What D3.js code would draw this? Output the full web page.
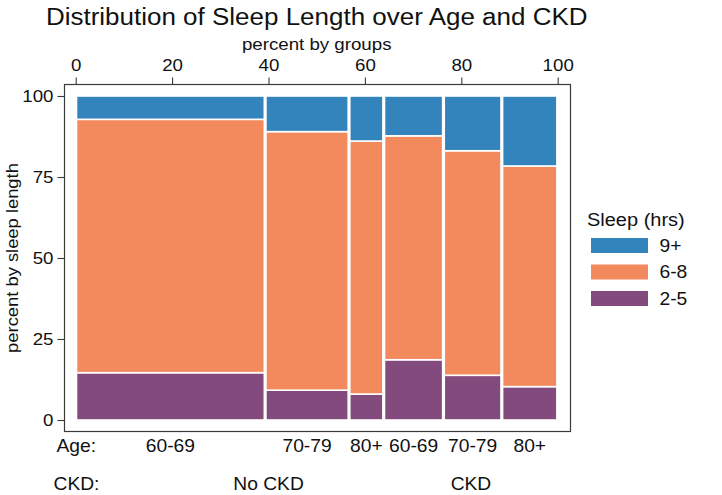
<!DOCTYPE html>
<html>
<head>
<meta charset="utf-8">
<script src="https://cdn.jsdelivr.net/npm/d3@7"></script>
<style>
  html, body { margin: 0; padding: 0; background: #fff; }
  svg { display: block; font-family: "Liberation Sans", Arial, sans-serif; }
</style>
</head>
<body>
<svg id="chart" width="722" height="495"></svg>
<script>
// ---- data ----
const ageGroups = ["60-69", "70-79", "80+", "60-69", "70-79", "80+"];
const ckdGroups = ["No CKD", "CKD"];
const ckdLabelAt = [40, 82];            // percent-by-groups position of group labels
const groupShare = [39.3, 17.4, 7.2, 12.4, 12.1, 11.6];   // percent of all, by group
const sleepCats = ["2-5", "6-8", "9+"];
const sleep2to5 = [14.6, 9.2, 8.0, 18.6, 13.8, 10.3];
const sleep6to8 = [78.2, 79.8, 78.1, 69.1, 69.3, 68.1];
const sleep9plus = [7.2, 11.0, 13.9, 12.3, 16.9, 21.6];
const xTicks = [0, 20, 40, 60, 80, 100];
const yTicks = [0, 25, 50, 75, 100];
const colors = { "9+": "#3383bd", "6-8": "#f28a5e", "2-5": "#834b7d" };

// ---- layout ----
const svg = d3.select("#chart");
const frame = { left: 64.5, right: 570.5, top: 84.5, bottom: 431.5 };
const xs = d3.scaleLinear().domain([0, 100]).range([75.7, 557.7]);
const ys = d3.scaleLinear().domain([0, 100]).range([420, 96]);
const SX = 1.1; // horizontal stretch of text seen in reference

// build table
let cum = 0;
const rows = ageGroups.map((g, i) => {
  const r = { i, age: g, x0: cum, x1: cum + groupShare[i],
    "2-5": sleep2to5[i], "6-8": sleep6to8[i], "9+": sleep9plus[i] };
  cum += groupShare[i];
  return r;
});
const series = d3.stack().keys(sleepCats)(rows);

// bars
svg.append("g").selectAll("g").data(series).join("g")
  .attr("fill", d => colors[d.key])
  .selectAll("rect").data(d => d).join("rect")
  .attr("x", d => xs(d.data.x0) + 0.8)
  .attr("width", d => xs(d.data.x1) - xs(d.data.x0) - 1.6)
  .attr("y", d => ys(d[1]))
  .attr("height", d => ys(d[0]) - ys(d[1]))
  .attr("stroke", "#fff")
  .attr("stroke-width", 1.6);

// frame
svg.append("rect")
  .attr("x", frame.left).attr("y", frame.top)
  .attr("width", frame.right - frame.left).attr("height", frame.bottom - frame.top)
  .attr("fill", "none").attr("stroke", "#3a3a3a").attr("stroke-width", 1.2);

// top axis
const topAxis = svg.append("g").attr("transform", `translate(0,${frame.top})`)
  .call(d3.axisTop(xs).tickValues(xTicks).tickSize(7).tickPadding(7).tickFormat(d3.format("d")));
topAxis.select(".domain").remove();
topAxis.selectAll("line").attr("stroke", "#3a3a3a").attr("stroke-width", 1.1);
topAxis.selectAll("text").attr("font-size", 17).attr("fill", "#111")
  .attr("font-family", "Liberation Sans, Arial, sans-serif")
  .attr("transform", `scale(${SX},1)`);

// left axis
const leftAxis = svg.append("g").attr("transform", `translate(${frame.left},0)`)
  .call(d3.axisLeft(ys).tickValues(yTicks).tickSize(7).tickPadding(4).tickFormat(d3.format("d")));
leftAxis.select(".domain").remove();
leftAxis.selectAll("line").attr("stroke", "#3a3a3a").attr("stroke-width", 1.1);
leftAxis.selectAll("text").attr("font-size", 17).attr("fill", "#111")
  .attr("font-family", "Liberation Sans, Arial, sans-serif")
  .attr("x", -11 / SX).attr("transform", `scale(${SX},1)`);

function label(x, y, txt, size, anchor, sx, rot) {
  const g = svg.append("g").attr("transform", `translate(${x},${y})` + (rot ? ` rotate(${rot})` : ""));
  g.append("text").text(txt).attr("font-size", size).attr("fill", "#111")
    .attr("text-anchor", anchor || "start").attr("transform", `scale(${sx || SX},1)`);
  return g;
}

// title & axis titles
label((xs(0) + xs(100)) / 2, 25, "Distribution of Sleep Length over Age and CKD", 23, "middle", 1.13);
label((xs(0) + xs(100)) / 2, 50, "percent by groups", 17, "middle", 1.1);
label(17.5, (ys(0) + ys(100)) / 2, "percent by sleep length", 17, "middle", 1.08, -90);

// bottom labels
label(56.5, 452, "Age:", 17.5, "start");
rows.forEach(r => label(xs((r.x0 + r.x1) / 2), 452, r.age, 17.5, "middle"));
label(53.5, 490, "CKD:", 17.5, "start");
ckdGroups.forEach((c, i) => label(xs(ckdLabelAt[i]), 490, c, 17.5, "middle"));

// legend
label(587, 226, "Sleep (hrs)", 18.5, "start", 1.08);
const legendKeys = ["9+", "6-8", "2-5"];
legendKeys.forEach((k, i) => {
  const y = 238 + i * 26.5;
  svg.append("rect").attr("x", 591).attr("y", y).attr("width", 57).attr("height", 15)
    .attr("fill", colors[k]);
  label(659.5, y + 13.5, k, 17.5, "start");
});
</script>
</body>
</html>
